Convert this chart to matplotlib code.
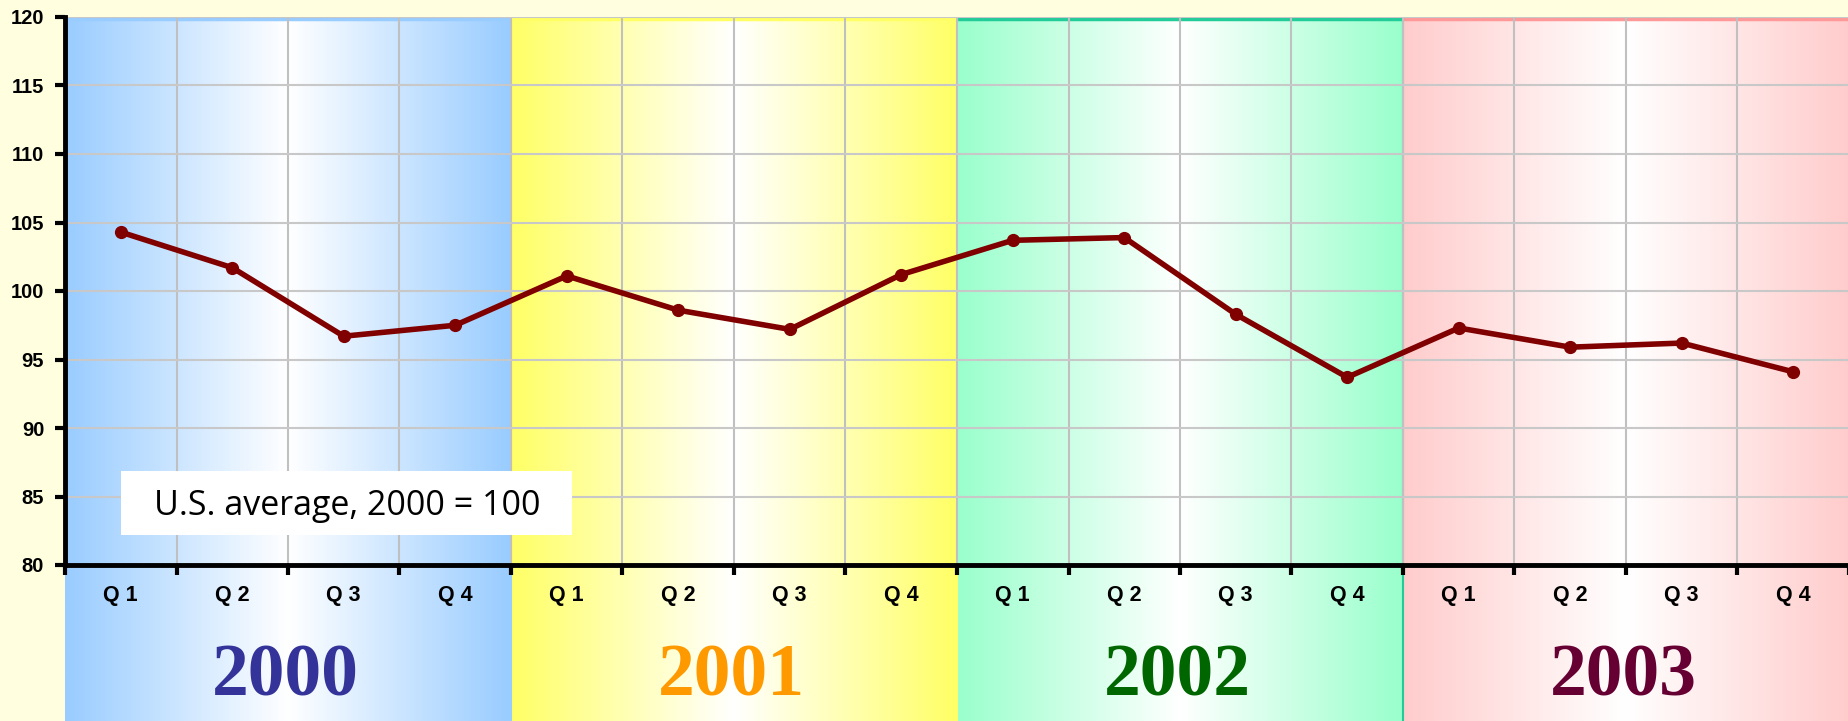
import numpy as np
import matplotlib
matplotlib.use("Agg")
import matplotlib.pyplot as plt
from matplotlib.patches import Rectangle

# data
years = ["2000", "2001", "2002", "2003"]
quarters = ["Q 1", "Q 2", "Q 3", "Q 4"]
index_values = [104.3, 101.7, 96.7, 97.5,
                101.1, 98.6, 97.2, 101.2,
                103.7, 103.9, 98.3, 93.7,
                97.3, 95.9, 96.2, 94.1]
year_colors = ["#333399", "#FF9900", "#006600", "#660033"]
band_colors = ["#99CCFF", "#FFFF66", "#99FFCC", "#FFCCCC"]
band_edges = ["#99CCFF", "#FFFF66", "#22CC99", "#FF9999"]

plt.rcParams["font.family"] = "Liberation Sans"

W, H = 1849, 721
left, top, bottom = 65, 17, 565

fig = plt.figure(figsize=(W / 100, H / 100), dpi=100, facecolor="#FFFFE0")

# background gradient bands, reaching down under the axis labels
bg = fig.add_axes([left / W, 0, 1 - left / W, (H - top) / H])
bg.set_xlim(0, 16)
bg.set_ylim(0, 1)
bg.axis("off")
n = 256
t = np.abs(np.linspace(-1, 1, n))[:, None]
white = np.array([1.0, 1.0, 1.0])
for i, c in enumerate(band_colors):
    rgb = np.array(matplotlib.colors.to_rgb(c))
    grad = white + (rgb - white) * t
    bg.imshow(grad[None, :, :], extent=(4 * i, 4 * i + 4, 0, 1),
              aspect="auto", interpolation="bilinear", zorder=0)
    bg.plot([4 * i, 4 * i + 4], [0.997, 0.997], color=band_edges[i], lw=2.5,
            solid_capstyle="butt", zorder=1)
    if i > 0:
        bg.axvline(4 * i, color=band_edges[i - 1], lw=1.5, zorder=1)

# main axes
ax = fig.add_axes([left / W, (H - bottom) / H, 1 - left / W, (bottom - top) / H])
ax.set_facecolor("none")
x = np.arange(len(index_values)) + 0.5
ax.set_xlim(0, 16)
ax.set_ylim(80, 120)

ax.set_yticks(np.arange(80, 121, 5))
ax.set_xticks(np.arange(0, 17, 1), minor=True)
ax.set_xticks(x)
ax.set_xticklabels(quarters * 4, fontsize=15.5, fontweight="bold")
ax.set_yticklabels([str(v) for v in range(80, 121, 5)], fontsize=14.5, fontweight="bold")
ax.grid(True, which="minor", axis="x", color="#C0C0C0", lw=1.5)
ax.grid(True, which="major", axis="y", color="#C8C8C8", lw=1.5)
ax.set_axisbelow(True)

ax.tick_params(axis="x", which="major", length=0, pad=14.5)
ax.tick_params(axis="x", which="minor", length=7, width=3, direction="out", color="black")
ax.tick_params(axis="y", length=7, width=3, direction="out", pad=8)

for side in ["top", "right"]:
    ax.spines[side].set_visible(False)
ax.spines["left"].set_linewidth(3.5)
ax.spines["bottom"].set_linewidth(3.5)

ax.plot(x, index_values, color="#800000", lw=4, marker="o", ms=8.5,
        zorder=5, clip_on=False)

# note box
ax.add_patch(Rectangle((0.5, 82.2), 4.05, 4.65, fc="white", ec="none", zorder=6))
ax.text(2.53, 83.65, "U.S. average, 2000 = 100", fontsize=24.5, family="Open Sans",
        ha="center", va="baseline", zorder=7)

for i, yr in enumerate(years):
    fig.text((left + (4 * i + 2) * (W - left) / 16 - 3) / W, (H - 695) / H, yr,
             ha="center", va="baseline", fontsize=53, fontweight="bold",
             family="Liberation Serif", color=year_colors[i])

fig.savefig("out.png", dpi=100, facecolor=fig.get_facecolor())
